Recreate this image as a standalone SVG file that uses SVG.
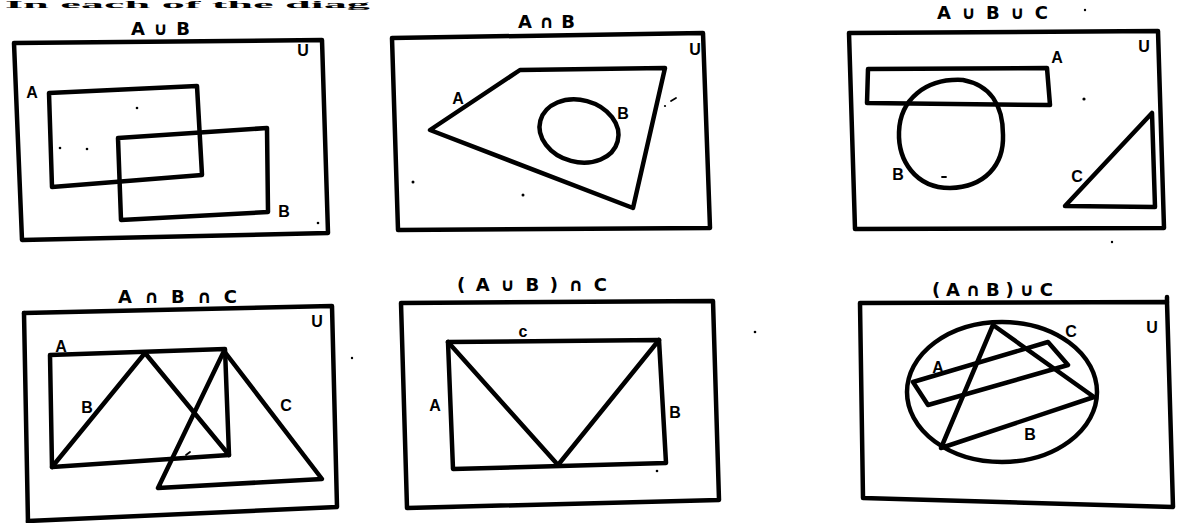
<svg xmlns="http://www.w3.org/2000/svg" width="1181" height="523" viewBox="0 0 1181 523">
<style>
.s{fill:none;stroke:#000;stroke-width:4.5;stroke-linejoin:round;stroke-linecap:round}
.t{font-family:"Liberation Sans",Arial,sans-serif;font-weight:bold;fill:#000;font-size:16px;text-anchor:middle}
.h{font-family:"DejaVu Sans",sans-serif;font-weight:bold;fill:#000;font-size:18px}
.d{fill:#000}
.m{fill:none;stroke:#000;stroke-width:1.8;stroke-linecap:round}
</style>
<rect width="1181" height="523" fill="#fff"/>
<text x="5" y="8" font-family="Liberation Serif,serif" font-weight="bold" font-size="10" fill="#000" textLength="365" lengthAdjust="spacingAndGlyphs">In each of the diag</text>

<g id="panel-AuB">
<text class="h" x="131" y="35" textLength="59" lengthAdjust="spacing">A∪B</text>
<polygon class="s" points="14,43 322,40 328,233 22,240"/>
<text class="t" x="303" y="56">U</text>
<polygon class="s" points="49,93 197,86 202,175 52,187"/>
<text class="t" x="32" y="98">A</text>
<polygon class="s" points="118,138 267,128 268,212 121,220"/>
<text class="t" x="284" y="217">B</text>
<circle class="d" cx="137" cy="108" r="1.3"/><circle class="d" cx="60" cy="148" r="1.3"/><circle class="d" cx="87" cy="149" r="1.3"/><circle class="d" cx="318" cy="223" r="1.3"/>
</g>

<g id="panel-AnB">
<text class="h" x="518" y="28" textLength="57" lengthAdjust="spacing">A∩B</text>
<polygon class="s" points="392,38 703,33 710,228 398,230"/>
<text class="t" x="695" y="55">U</text>
<polygon class="s" points="430,130 520,70 665,68 633,208"/>
<text class="t" x="458" y="104">A</text>
<ellipse class="s" cx="579" cy="131" rx="40" ry="31" transform="rotate(15 579 131)"/>
<text class="t" x="623" y="119">B</text>
<circle class="d" cx="665" cy="106" r="1.1"/><path class="m" d="M671,101 L676,98"/>
<circle class="d" cx="413" cy="182" r="1.5"/><circle class="d" cx="523" cy="195" r="1.5"/>
</g>

<g id="panel-AuBuC">
<text class="h" x="937" y="19" textLength="111" lengthAdjust="spacing">A∪B∪C</text>
<circle class="d" cx="1085" cy="10" r="1.2"/>
<polygon class="s" points="849,33 1158,31 1164,228 855,229"/>
<text class="t" x="1144" y="52">U</text>
<polygon class="s" points="868,69 1047,68 1050,105 867,103"/>
<text class="t" x="1057" y="63">A</text>
<path class="s" d="M963,80 C990,85 1003,105 1003,135 C1004,165 985,187 950,188 C915,188 898,160 899,132 C900,100 925,78 963,80 Z"/>
<text class="t" x="898" y="180">B</text>
<path class="m" d="M942,177 L946,177"/>
<circle class="d" cx="1084" cy="99" r="1.6"/>
<polygon class="s" points="1065,206 1152,113 1155,207"/>
<text class="t" x="1077" y="182">C</text>
<circle class="d" cx="1112" cy="242" r="1.2"/>
</g>

<g id="panel-AnBnC">
<text class="h" x="118" y="303" textLength="119" lengthAdjust="spacing">A∩B∩C</text>
<polyline class="s" points="24,313 332,306 337,507 28,521"/>
<line class="s" x1="24" y1="313" x2="28" y2="523"/>
<text class="t" x="317" y="327">U</text>
<polygon class="s" points="50,355 225,349 229,455 52,467"/>
<text class="t" x="61" y="352">A</text>
<polyline class="s" points="52,467 145,353 229,455"/>
<text class="t" x="87" y="413">B</text>
<polygon class="s" points="224,351 158,488 322,479"/>
<text class="t" x="286" y="411">C</text>
<path class="m" d="M186,455 L190,452"/>
<circle class="d" cx="352" cy="358" r="1.2"/>
</g>

<g id="panel-AuBnC">
<text class="h" x="457" y="291" textLength="150" lengthAdjust="spacing">(A∪B)∩C</text>
<polygon class="s" points="401,303 713,301 719,500 407,508"/>
<polygon class="s" points="448,342 659,340 666,463 453,469"/>
<polyline class="s" points="448,342 558,465 659,340"/>
<text class="t" x="523" y="337" font-size="13">c</text>
<text class="t" x="435" y="411">A</text>
<text class="t" x="675" y="418">B</text>
<circle class="d" cx="755" cy="332" r="1.3"/><circle class="d" cx="657" cy="471" r="1.3"/>
</g>

<g id="panel-AnBuC">
<text class="h" x="932" y="296" textLength="121" lengthAdjust="spacing">(A∩B)∪C</text>
<polygon class="s" points="860,303 1167,302 1173,507 863,498"/>
<line class="s" x1="1167" y1="302" x2="1167" y2="297"/>
<text class="t" x="1152" y="333">U</text>
<ellipse class="s" cx="1002" cy="392" rx="95" ry="70"/>
<text class="t" x="1071" y="337">C</text>
<polygon class="s" points="993,325 1094,397 941,448"/>
<text class="t" x="1030" y="440">B</text>
<polygon class="s" points="913,382 1048,342 1068,365 928,405"/>
<text class="t" x="938" y="373">A</text>
</g>
</svg>
